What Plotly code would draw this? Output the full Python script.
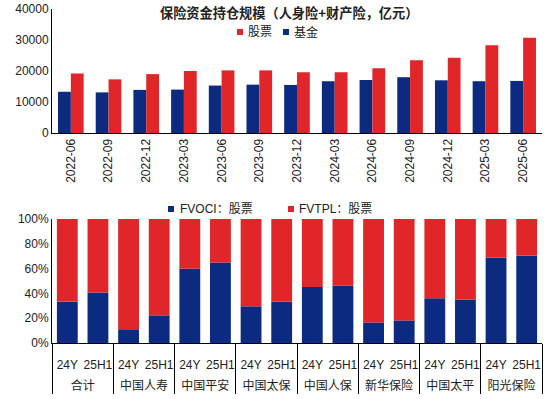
import plotly.graph_objects as go

# ---- top chart data ----
quarters = ["2022-06","2022-09","2022-12","2023-03","2023-06","2023-09","2023-12",
            "2024-03","2024-06","2024-09","2024-12","2025-03","2025-06"]
stocks = [19200, 17300, 19000, 20000, 20200, 20200, 19600, 19600, 20900, 23500, 24300, 28300, 30750]
funds  = [13300, 13100, 13900, 14000, 15300, 15600, 15500, 16700, 17100, 18000, 17000, 16700, 16800]

# ---- bottom chart data ----
companies = ["合计","中国人寿","中国平安","中国太保","中国人保","新华保险","中国太平","阳光保险"]
periods = ["24Y","25H1"]
fvoci = [33.4, 40.8, 11.1, 22.3, 59.8, 64.9, 29.6, 33.2, 45.1, 46.2, 16.6, 18.2, 36.1, 34.8, 69.0, 70.4]
fvtpl = [66.6, 59.2, 88.9, 77.7, 40.2, 35.1, 70.4, 66.8, 54.9, 53.8, 83.4, 81.8, 63.9, 65.2, 31.0, 29.6]

RED = "#E02628"
BLUE = "#0B2A80"
TXT = "#222222"
CN = "Noto Sans CJK SC"
NUM = "Liberation Sans"

W, H = 554.0, 399.0
ML, MR = 52, 12
PW = W - ML - MR


def px(x):
    return (x - ML) / PW


def py(y):
    return 1 - y / H


fig = go.Figure()

fig.add_trace(go.Bar(x=quarters, y=funds, name="基金", marker=dict(color=BLUE, line=dict(width=0)),
                     xaxis="x", yaxis="y", offsetgroup="f", showlegend=False))
fig.add_trace(go.Bar(x=quarters, y=stocks, name="股票", marker=dict(color=RED, line=dict(width=0)),
                     xaxis="x", yaxis="y", offsetgroup="s", showlegend=False))

# group labels get a leading line break so they sit lower, like the reference
mx = [["<br>" + c for c in companies for _ in periods], [p for _ in companies for p in periods]]
fig.add_trace(go.Bar(x=mx, y=fvoci, name="FVOCI：股票", marker=dict(color=BLUE, line=dict(width=0)),
                     xaxis="x2", yaxis="y2", offsetgroup="b", width=0.68, showlegend=False))
fig.add_trace(go.Bar(x=mx, y=fvtpl, base=fvoci, name="FVTPL：股票", marker=dict(color=RED, line=dict(width=0)),
                     xaxis="x2", yaxis="y2", offsetgroup="b", width=0.68, showlegend=False))

# legend entries (small squares + labels), positioned like the reference
legend_items = [
    (237, 32, RED, "股票", 246),
    (283, 32, BLUE, "基金", 292),
    (168, 209, BLUE, "FVOCI：股票", 178),
    (288, 209, RED, "FVTPL：股票", 297),
]
shapes = []
annotations = []
for sx, cy, col, txt, tx in legend_items:
    shapes.append(dict(type="rect", xref="paper", yref="paper",
                       x0=px(sx), x1=px(sx + 6), y0=py(cy + 3), y1=py(cy - 3),
                       fillcolor=col, line=dict(width=0)))
    annotations.append(dict(text=txt, x=px(tx), xref="paper", xanchor="left",
                            y=py(cy), yref="paper", yanchor="middle", showarrow=False,
                            font=dict(size=12, family=NUM + ", " + CN, color=TXT)))

annotations.append(dict(text="<b>保险资金持仓规模（人身险+财产险，亿元）</b>", x=px(289), xref="paper",
                        y=py(13), yref="paper", yanchor="middle", showarrow=False,
                        font=dict(size=13.2, family=CN, color=TXT)))

fig.update_layout(
    width=W, height=H,
    margin=dict(l=ML, r=MR, t=0, b=0, autoexpand=False),
    paper_bgcolor="white", plot_bgcolor="white",
    barmode="group", bargap=0.32, bargroupgap=0,
    font=dict(family=NUM + ", " + CN, size=12, color=TXT),
    showlegend=False,
    xaxis=dict(domain=[0, 1], anchor="y", type="category", tickangle=-90, showline=True,
               linecolor="#000", linewidth=1, ticks="", tickfont=dict(size=12, family=NUM, color=TXT)),
    yaxis=dict(domain=[py(133), py(9)], anchor="x", range=[0, 40000], dtick=10000, tickformat="d",
               showline=True, linecolor="#000", linewidth=1, showgrid=False, zeroline=False,
               ticks="", tickfont=dict(size=12, family=NUM, color=TXT)),
    xaxis2=dict(domain=[0, 1], anchor="y2", type="multicategory", tickangle=0, showline=True,
                linecolor="#000", linewidth=1, ticks="", showdividers=True, dividercolor="#000",
                dividerwidth=1, ticklabelstandoff=11,
                tickfont=dict(size=12, family=NUM + ", " + CN, color=TXT)),
    yaxis2=dict(domain=[py(343), py(219)], anchor="x2", range=[0, 100], dtick=20, ticksuffix="%",
                showline=True, linecolor="#000", linewidth=1, showgrid=False, zeroline=False,
                ticks="", tickfont=dict(size=12, family=NUM, color=TXT)),
    shapes=shapes,
    annotations=annotations,
)

fig.write_html("out.html", config={"displayModeBar": False},
               post_script="document.body.style.margin='0px';document.body.style.overflow='hidden';")
